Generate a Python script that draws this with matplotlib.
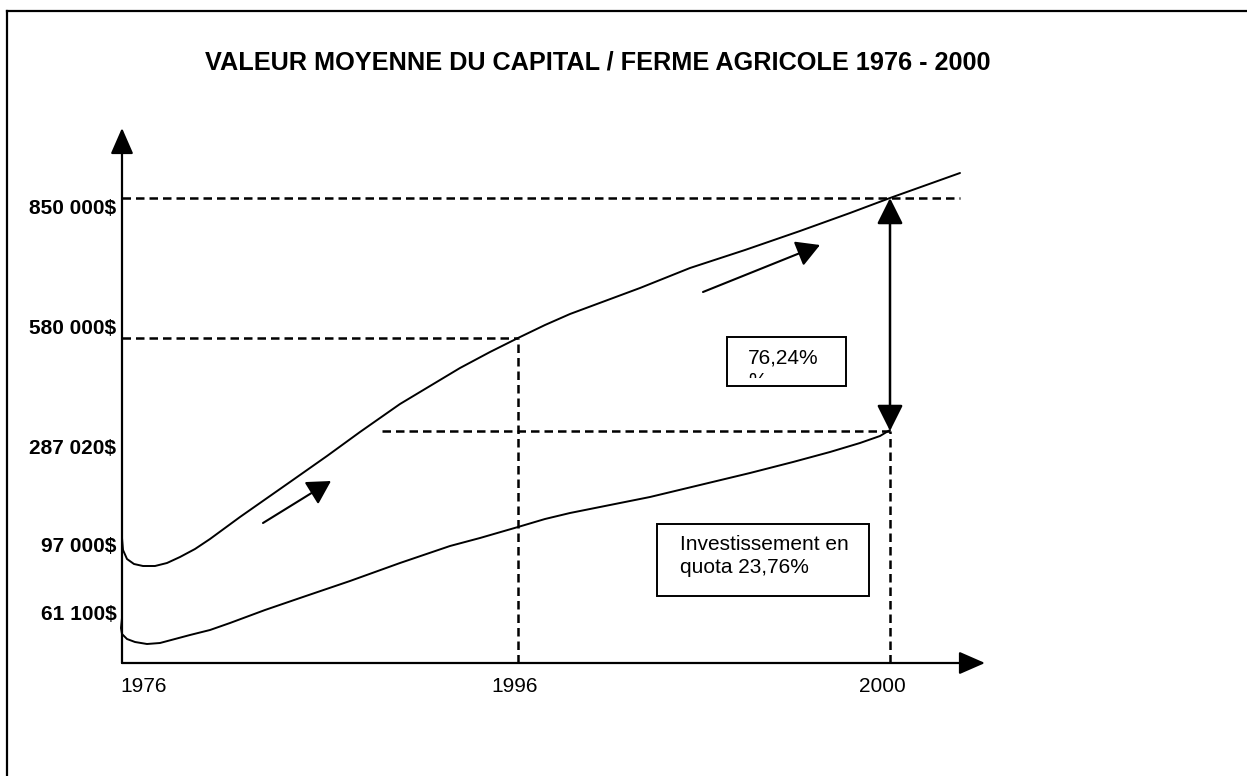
import matplotlib
matplotlib.use("Agg")
import matplotlib.pyplot as plt
from matplotlib.patches import Rectangle
from matplotlib.lines import Line2D
from matplotlib.transforms import Bbox, TransformedBbox

plt.rcParams['font.family'] = ['Liberation Sans', 'DejaVu Sans']

# ---- data (schematic units: x from the origin to the right, y from the origin upward) ----
title = "VALEUR MOYENNE DU CAPITAL / FERME AGRICOLE 1976 - 2000"

y_tick_pos = [457, 336, 216, 119, 51]
y_tick_labels = ["850 000$", "580 000$", "287 020$", "97 000$", "61 100$"]

x_tick_pos = [22, 393, 760]
x_tick_labels = ["1976", "1996", "2000"]

upper_x = [0, 1, 5, 12, 21, 33, 45, 58, 73, 88, 103, 118, 138, 168, 205, 238, 278, 308, 338,
           368, 396, 423, 448, 483, 518, 568, 623, 678, 728, 768, 838]
upper_y = [125, 113, 104, 99, 97, 97, 100, 106, 114, 124, 135, 146, 160, 181, 207, 231, 259, 277, 295,
           311, 325, 338, 349, 362, 375, 395, 413, 432, 450, 465, 490]

lower_x = [0, -1, 0, 5, 13, 25, 38, 53, 68, 88, 108, 143, 178, 228, 278, 328, 358, 396, 423, 448,
           488, 528, 578, 628, 671, 708, 738, 758, 768]
lower_y = [45, 35, 29, 24, 21, 19, 20, 24, 28, 33, 40, 53, 65, 82, 100, 117, 125, 136, 144, 150,
           158, 166, 178, 190, 201, 211, 220, 227, 233]

level_850 = 465
level_580 = 325
level_287 = 232
x_1996 = 396
x_2000 = 768

box_pct_text = ["76,24%", "%"]
box_quota_text = ["Investissement en", "quota 23,76%"]

# ---- figure ----
W, H = 1247, 776
fig = plt.figure(figsize=(W / 100, H / 100), dpi=100)
fig.patch.set_facecolor("white")

# outer frame (cut at right and bottom)
fig.add_artist(Line2D([7 / W, 1], [1 - 11 / H, 1 - 11 / H], transform=fig.transFigure, color="black", lw=1.6))
fig.add_artist(Line2D([7 / W, 7 / W], [0, 1 - 11 / H], transform=fig.transFigure, color="black", lw=1.6))

fig.text(598 / W, 1 - 62 / H, title, ha="center", va="center", fontsize=18.2, fontweight="bold")

ax = fig.add_axes([122 / W, (H - 663) / H, 878 / W, 543 / H])
ax.set_xlim(0, 878)
ax.set_ylim(0, 543)
for s in ax.spines.values():
    s.set_visible(False)
ax.patch.set_alpha(0)

ax.set_yticks(y_tick_pos)
ax.set_yticklabels(y_tick_labels, fontsize=15, fontweight="bold")
ax.set_xticks(x_tick_pos)
ax.set_xticklabels(x_tick_labels, fontsize=15)
ax.tick_params(axis="both", length=0)
ax.tick_params(axis="y", pad=4)
ax.tick_params(axis="x", pad=10)

# axes with arrows
axis_style = "-|>,head_length=0.8,head_width=0.35"
ax.annotate("", xy=(0, 535), xytext=(0, 0),
            arrowprops=dict(arrowstyle=axis_style, mutation_scale=20, lw=1.6, color="black",
                            shrinkA=0, shrinkB=0), annotation_clip=False)
ax.annotate("", xy=(863, 0), xytext=(0, 0),
            arrowprops=dict(arrowstyle=axis_style, mutation_scale=20, lw=1.6, color="black",
                            shrinkA=0, shrinkB=0), annotation_clip=False)

# dashed guide lines
dash_kw = dict(color="black", lw=1.8, linestyle=(0, (3.4, 2.0)), clip_on=False)
ax.plot([0, 838], [level_850, level_850], **dash_kw)
ax.plot([0, x_1996], [level_580, level_580], **dash_kw)
ax.plot([260, x_2000], [level_287, level_287], **dash_kw)
ax.plot([x_1996, x_1996], [0, level_580], **dash_kw)
ax.plot([x_2000, x_2000], [0, level_287], **dash_kw)

# curves
line_kw = dict(color="black", lw=1.4, clip_on=False, solid_capstyle="round", solid_joinstyle="round")
ax.plot(upper_x, upper_y, **line_kw)
ax.plot(lower_x, lower_y, **line_kw)

# small direction arrows
small_style = "-|>,head_length=0.8,head_width=0.45"
ax.annotate("", xy=(209, 182), xytext=(141, 140),
            arrowprops=dict(arrowstyle=small_style, mutation_scale=18, lw=1.5, color="black",
                            shrinkA=0, shrinkB=0))
ax.annotate("", xy=(698, 418), xytext=(581, 371),
            arrowprops=dict(arrowstyle=small_style, mutation_scale=18, lw=1.5, color="black",
                            shrinkA=0, shrinkB=0))

# double arrow
ax.annotate("", xy=(x_2000, level_850), xytext=(x_2000, level_287),
            arrowprops=dict(arrowstyle="<|-|>,head_length=0.8,head_width=0.4", mutation_scale=20,
                            lw=1.8, color="black", shrinkA=0, shrinkB=0))

# box 76,24%
ax.add_patch(Rectangle((605, 277), 119, 49, fill=True, facecolor="white", edgecolor="black", lw=1.4, zorder=3))
clip = TransformedBbox(Bbox.from_extents(605, 285, 724, 326), ax.transData)
for i, line in enumerate(box_pct_text):
    t = ax.text(626, 299 - 23 * i, line, fontsize=15, ha="left", va="baseline", zorder=4)
    t.set_clip_box(clip)
    t.set_clip_on(True)

# box investissement
ax.add_patch(Rectangle((535, 67), 212, 72, fill=True, facecolor="white", edgecolor="black", lw=1.4, zorder=3))
for i, line in enumerate(box_quota_text):
    ax.text(558, 113 - 23 * i, line, fontsize=15, ha="left", va="baseline", zorder=4)

fig.savefig("out.png", dpi=100, facecolor="white")
